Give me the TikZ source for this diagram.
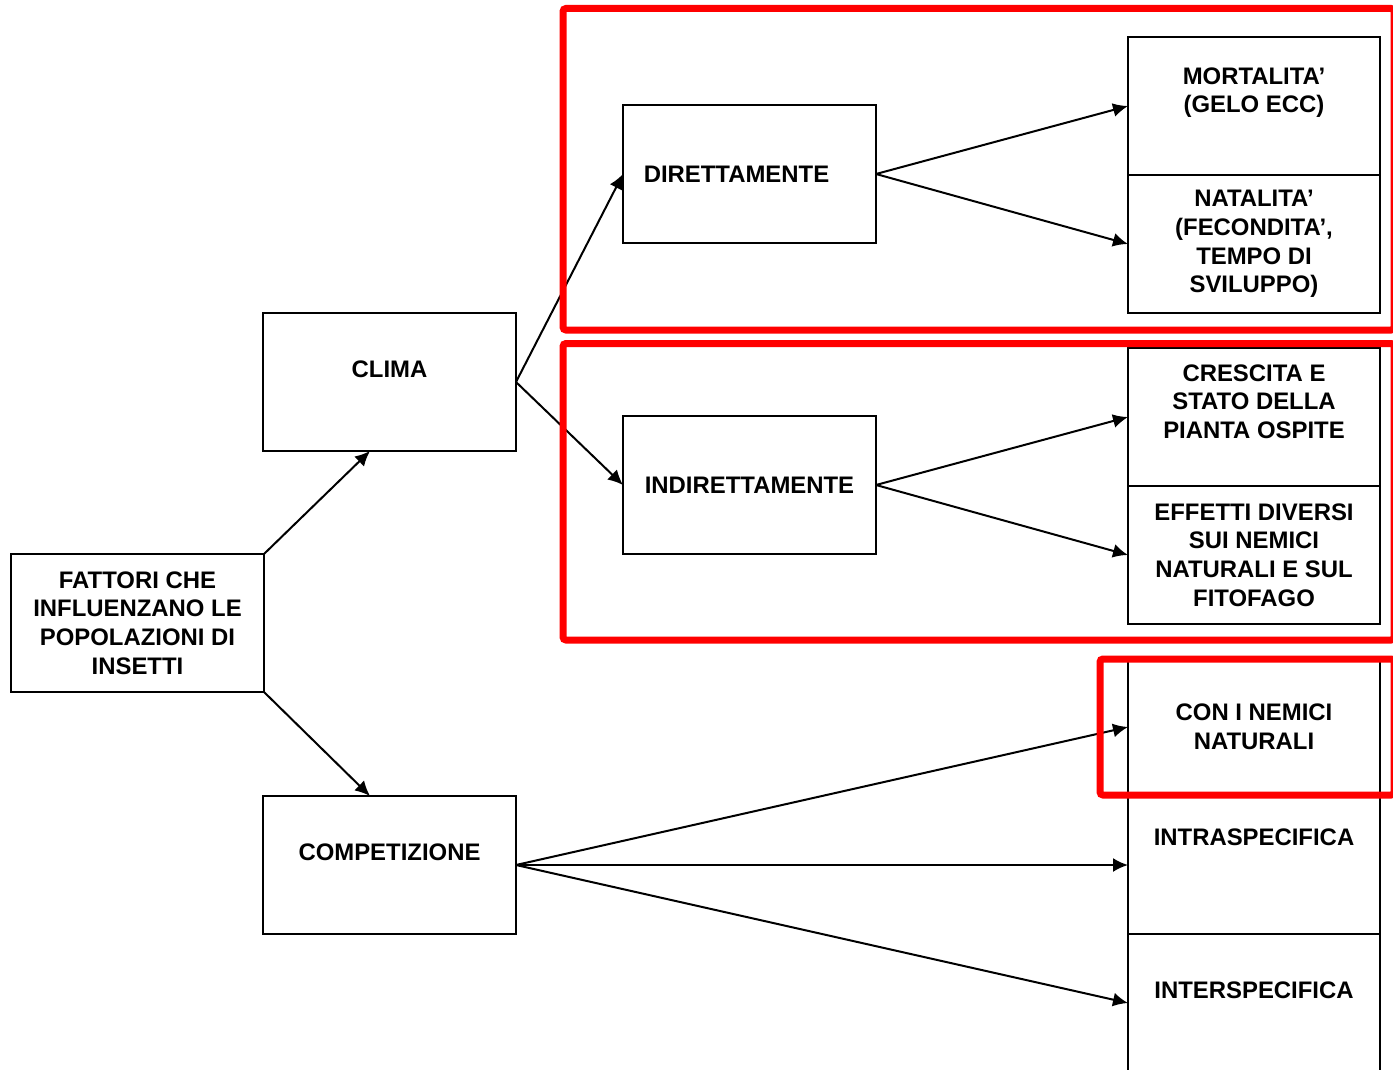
\documentclass[tikz,border=0pt]{standalone}
\usepackage{fontspec}
\setmainfont{Liberation Sans}
\usetikzlibrary{positioning,arrows.meta}

\tikzset{
  box/.style={draw,line width=2pt,rectangle,inner sep=0pt,outer sep=0pt,
    minimum width=253pt,minimum height=138pt},
  colbox/.style={box,minimum width=252pt},
  txt/.style={align=center,inner sep=0pt,
    font=\fontsize{23.9}{28.7}\selectfont\bfseries},
  focus/.style={draw=red,line width=7pt,rounded corners=3pt},
}

\begin{document}
\begin{tikzpicture}[x=1pt,y=-1pt,node distance=0pt,
    every edge/.style={draw,line width=2pt,-{Latex[length=15pt,width=14pt]}}]
    \path[use as bounding box,clip] (0,0) rectangle (1393,1070);

    % left part
    \node[box] (fattori) at (137.5,623) {};
    \node[txt] at (fattori.center) {FATTORI CHE\\INFLUENZANO LE\\POPOLAZIONI DI\\INSETTI};
    \node[box] (clima) at (389.5,382) {};
    \node[txt] at ([yshift=13pt]clima.center) {CLIMA};
    \node[box] (competizione) at (389.5,865) {};
    \node[txt] at ([yshift=13pt]competizione.center) {COMPETIZIONE};

    % middle
    \node[box] (diretta) at (749.5,174) {};
    \node[txt] at ([xshift=-13pt]diretta.center) {DIRETTAMENTE};
    \node[box] (indiretta) at (749.5,485) {};
    \node[txt] at (indiretta.center) {INDIRETTAMENTE};

    % right column
    \node[colbox] (mortalita) at (1254,106) {};
    \node[txt] at ([yshift=13.5pt]mortalita.center) {MORTALITA’\\(GELO ECC)};
    \node[colbox,below=of mortalita] (natalita) {};
    \node[txt] at (natalita.center) {NATALITA’\\(FECONDITA’,\\TEMPO DI\\SVILUPPO)};
    \node[colbox] (crescita) at (1254,417) {};
    \node[txt] at ([yshift=15.5pt]crescita.center) {CRESCITA E\\STATO DELLA\\PIANTA OSPITE};
    \node[colbox,below=of crescita] (effetti) {};
    \node[txt] at (effetti.center) {EFFETTI DIVERSI\\SUI NEMICI\\NATURALI E SUL\\FITOFAGO};
    \node[colbox] (nemici) at (1254,727) {};
    \node[txt] at (nemici.center) {CON I NEMICI\\NATURALI};
    \node[colbox,below=of nemici] (intra) {};
    \node[txt] at ([yshift=28pt]intra.center) {INTRASPECIFICA};
    \node[colbox,below=of intra] (inter) {};
    \node[txt] at ([yshift=13pt]inter.center) {INTERSPECIFICA};

    \path
        (fattori.north east) edge ([xshift=-19.5pt]clima.south)
        (fattori.south east) edge ([xshift=-19.5pt]competizione.north)
        (clima.east) edge (diretta.west)
        (clima.east) edge (indiretta.west)
        (diretta.east) edge (mortalita.west)
        (diretta.east) edge (natalita.west)
        (indiretta.east) edge (crescita.west)
        (indiretta.east) edge (effetti.west)
        (competizione.east) edge (nemici.west)
        (competizione.east) edge (intra.west)
        (competizione.east) edge (inter.west);

    % red frames
    \draw[focus] (563,8.5) rectangle (1394,330);
    \draw[focus] (563,343.5) rectangle (1394,640);
    \draw[focus] (1100,659) rectangle (1394,795);
\end{tikzpicture}
\end{document}
